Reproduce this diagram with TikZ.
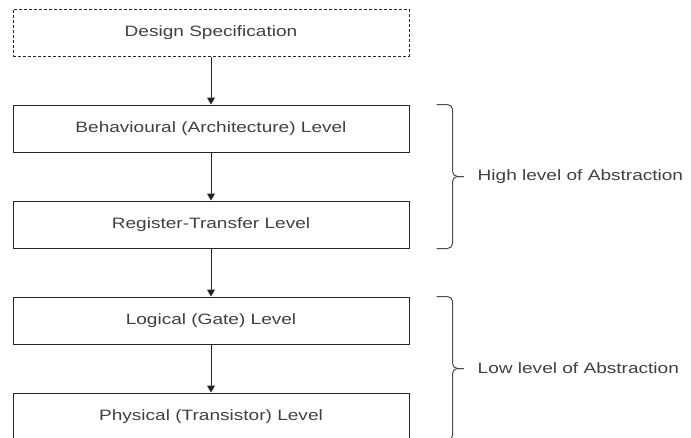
\documentclass[tikz,border=0pt]{standalone}
\usepackage{fontspec}
\setmainfont[FakeStretch=1.27]{Liberation Sans}
\usetikzlibrary{positioning,calc,arrows.meta}

\begin{document}
\begin{tikzpicture}[x=1pt, y=1pt, node distance=48pt,
    level/.style={draw=black!85, line width=1pt, minimum width=396pt,
      minimum height=47pt, text=black!75, font=\fontsize{15}{18}\selectfont},
    spec/.style={level, dash pattern=on 3pt off 2pt},
    flow/.style={-{Triangle[length=7pt,width=8pt]}, draw=black!85, line width=1pt},
    brace/.style={draw=black!70, line width=1pt, rounded corners=5pt},
    abstr/.style={anchor=west, inner sep=0pt, text=black!75, font=\fontsize{15}{18}\selectfont}]
  \useasboundingbox (0,0) rectangle (691,-437);
  \node[spec] (spec) at (211,-32.5) {Design Specification};
  \node[level] (beh) [below=of spec] {Behavioural (Architecture) Level};
  \node[level] (rtl) [below=of beh] {Register-Transfer Level};
  \node[level] (gate) [below=of rtl] {Logical (Gate) Level};
  \node[level] (phys) [below=of gate] {Physical (Transistor) Level};
  \draw[flow] (spec) -- (beh);
  \draw[flow] (beh) -- (rtl);
  \draw[flow] (rtl) -- (gate);
  \draw[flow] (gate) -- (phys);
  % high level brace
  \coordinate (ht) at ([xshift=27pt]beh.north east);
  \coordinate (hb) at ([xshift=27pt]rtl.south east);
  \coordinate (hm) at ($(ht)!0.5!(hb)+(16,0)$);
  \coordinate (htip) at ($(hm)+(11,0)$);
  \draw[brace] (ht) -- ++(16,0) -- (hm) -- (htip);
  \draw[brace] (hb) -- ++(16,0) -- (hm) -- (htip);
  \node[abstr] (high) at ($(htip)+(14,0)$) {High level of Abstraction};
  % low level brace
  \coordinate (lt) at ([xshift=27pt]gate.north east);
  \coordinate (lb) at ([xshift=27pt]phys.south east);
  \coordinate (lm) at ($(lt)!0.5!(lb)+(16,0)$);
  \coordinate (ltip) at ($(lm)+(11,0)$);
  \draw[brace] (lt) -- ++(16,0) -- (lm) -- (ltip);
  \draw[brace] (lb) -- ++(16,0) -- (lm) -- (ltip);
  \node[abstr] (low) at ($(ltip)+(14,0)$) {Low level of Abstraction};
\end{tikzpicture}
\end{document}
